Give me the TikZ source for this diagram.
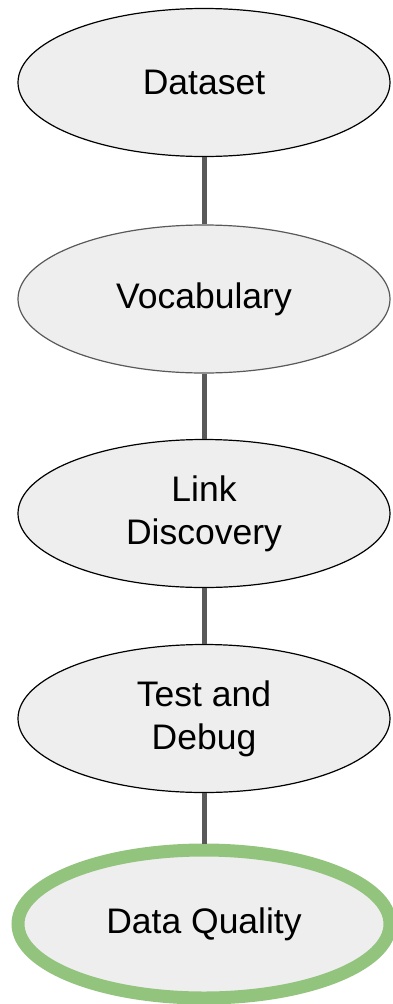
\documentclass[tikz,border=0pt]{standalone}
\usepackage{fontspec}
\setmainfont{Liberation Sans}
\usetikzlibrary{shapes.geometric}
\definecolor{nodefill}{HTML}{EEEEEE}
\definecolor{linkgray}{HTML}{595959}
\definecolor{qgreen}{HTML}{93C47D}
\begin{document}
\begin{tikzpicture}[x=1pt,y=1pt,
  stage/.style={ellipse, draw=black, line width=1.2pt, fill=nodefill,
    minimum width=372pt, minimum height=148pt, inner sep=0pt, align=center,
    font=\fontsize{35.5}{43}\selectfont},
  link/.style={draw=linkgray, line width=5pt}]
\useasboundingbox (0,0) rectangle (392,-1004);
\node[stage] (ds) at (204,-82.5) {Dataset};
\node[stage, draw=black!65] (voc) at (204,-299) {Vocabulary};
\node[stage] (ld) at (204,-513.5) {Link\\Discovery};
\node[stage] (td) at (204,-718.5) {Test and\\Debug};
\node[stage, draw=qgreen, line width=13pt] (dq) at (204,-924) {Data Quality};
\draw[link] (ds) -- (voc);
\draw[link] (voc) -- (ld);
\draw[link] (ld) -- (td);
\draw[link] (td) -- (dq);
\end{tikzpicture}
\end{document}
